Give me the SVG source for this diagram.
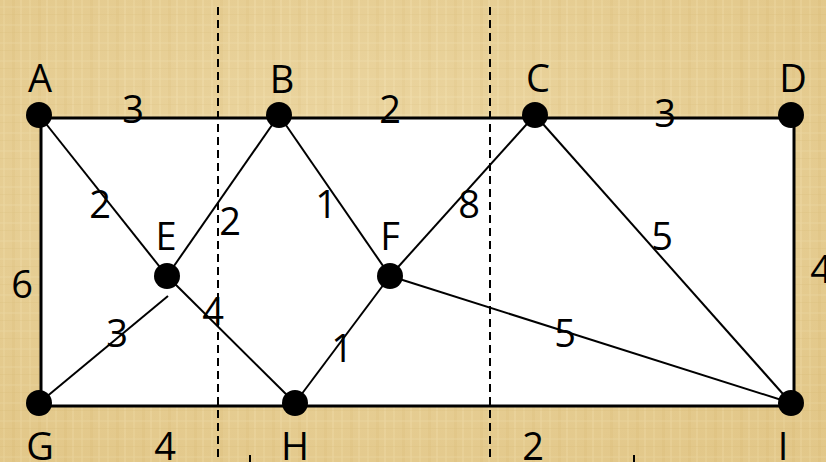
<svg xmlns="http://www.w3.org/2000/svg" width="826" height="462" viewBox="0 0 826 462">
<style>
.edge{stroke:#000;stroke-width:2;fill:none}
.rect{stroke:#000;stroke-width:3;fill:#fff}
.dash{stroke:#000;stroke-width:2;stroke-dasharray:8,5;fill:none}
.node{fill:#000}
text{font-family:"Open Sans","Noto Sans","Liberation Sans",sans-serif;font-size:38px;fill:#000;text-anchor:middle}
</style>
<defs>
<pattern id="tex" width="26" height="18" patternUnits="userSpaceOnUse">
<rect width="26" height="18" fill="#E8D097"/>
<rect x="3" width="2" height="18" fill="#F0DDAA" opacity="0.6"/>
<rect x="12" width="3" height="18" fill="#DCC07F" opacity="0.35"/>
<rect x="20" width="2" height="18" fill="#F3E2B4" opacity="0.5"/>
<rect y="6" width="26" height="2" fill="#F1DEAE" opacity="0.4"/>
<rect y="14" width="26" height="1" fill="#D9BD7C" opacity="0.3"/>
</pattern>
<radialGradient id="shade" cx="0.45" cy="0.4" r="0.7">
<stop offset="0" stop-color="#F5E6BC" stop-opacity="0.35"/>
<stop offset="1" stop-color="#D8B870" stop-opacity="0.35"/>
</radialGradient>
</defs>
<rect width="826" height="462" fill="url(#tex)"/>
<rect width="826" height="462" fill="url(#shade)"/>
<rect class="rect" x="41" y="118" width="753" height="288"/>
<g id="connectors">
<line class="edge" x1="39" y1="115" x2="167" y2="276"/>
<line class="edge" x1="279" y1="115" x2="167" y2="276"/>
<line class="edge" x1="39" y1="403" x2="168" y2="296"/>
<line class="edge" x1="167" y1="276" x2="295" y2="403"/>
<line class="edge" x1="279" y1="115" x2="390" y2="276"/>
<line class="edge" x1="390" y1="276" x2="295" y2="403"/>
<line class="edge" x1="390" y1="276" x2="535" y2="115"/>
<line class="edge" x1="390" y1="276" x2="791" y2="403"/>
<line class="edge" x1="535" y1="115" x2="791" y2="403"/>
</g>
<g id="dividers">
<line class="dash" x1="218" y1="7" x2="218" y2="462"/>
<line class="dash" x1="490" y1="7" x2="490" y2="462"/>
<line class="edge" x1="250" y1="455" x2="250" y2="462"/>
<line class="edge" x1="634" y1="455" x2="634" y2="462"/>
</g>
<g id="A"><circle class="node" cx="39" cy="115" r="13"/><text x="40" y="92">A</text></g>
<g id="B"><circle class="node" cx="279" cy="115" r="13"/><text x="282" y="93">B</text></g>
<g id="C"><circle class="node" cx="535" cy="115" r="13"/><text x="538" y="92">C</text></g>
<g id="D"><circle class="node" cx="791" cy="115" r="13"/><text x="793" y="92">D</text></g>
<g id="E"><circle class="node" cx="167" cy="276" r="13"/><text x="166" y="250">E</text></g>
<g id="F"><circle class="node" cx="390" cy="276" r="13"/><text x="390" y="250">F</text></g>
<g id="G"><circle class="node" cx="39" cy="403" r="13"/><text x="40" y="460">G</text></g>
<g id="H"><circle class="node" cx="295" cy="403" r="13"/><text x="295" y="460">H</text></g>
<g id="I"><circle class="node" cx="791" cy="403" r="13"/><text x="783" y="460">I</text></g>
<g id="weights">
<text x="133" y="123">3</text>
<text x="390" y="123">2</text>
<text x="665" y="127">3</text>
<text x="100" y="218">2</text>
<text x="230" y="235">2</text>
<text x="326" y="218">1</text>
<text x="469" y="218">8</text>
<text x="662" y="250">5</text>
<text x="821" y="283">4</text>
<text x="22" y="298">6</text>
<text x="117" y="347">3</text>
<text x="213" y="325">4</text>
<text x="342" y="362">1</text>
<text x="565" y="347">5</text>
<text x="165" y="460">4</text>
<text x="533" y="460">2</text>
</g>
</svg>
